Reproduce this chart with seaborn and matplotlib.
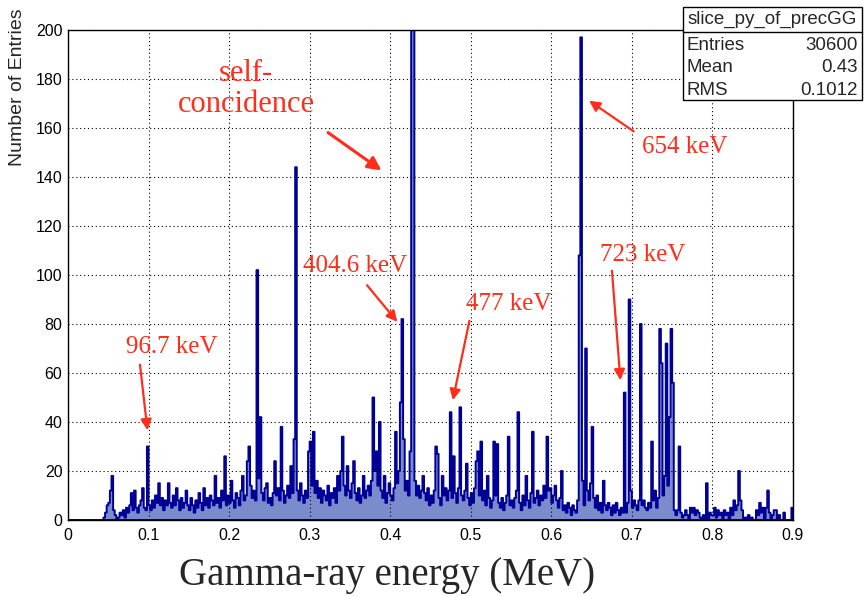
import numpy as np
import pandas as pd
import matplotlib
matplotlib.use("Agg")
import matplotlib.pyplot as plt
import seaborn as sns
from matplotlib.patches import Rectangle
from matplotlib.lines import Line2D
from matplotlib.ticker import MultipleLocator, FuncFormatter

# entries per 2 keV bin, one list per 0.1 MeV
counts_00_01 = [0, 0, 0, 0, 0, 0, 0, 0, 0, 0, 0, 0, 0, 0, 0, 0, 0, 0, 0, 0,
                0, 0, 1, 3, 6,
                7, 12, 18, 4, 2, 0, 1, 3, 2, 4, 1, 5, 3, 6, 11, 4, 12, 5, 3, 6,
                8, 13, 5, 4, 30]
counts_01_02 = [6, 4, 8, 5, 10, 7, 15, 6, 9, 4, 8, 6, 15, 7, 5, 10, 6, 13, 8, 4,
                9, 5, 7, 12, 6,
                4, 9, 6, 3, 8, 5, 11, 7, 4, 13, 6, 9, 5, 10, 8, 6, 18, 7, 9, 5,
                12, 8, 26, 6, 10]
counts_02_03 = [7, 16, 8, 5, 11, 9, 6, 12, 18, 8, 10, 24, 30, 14, 9, 12, 8, 102, 17, 42,
                11, 8, 13, 15, 7,
                9, 6, 11, 24, 10, 13, 8, 38, 12, 7, 10, 14, 9, 22, 11, 33, 144, 12, 8, 15,
                10, 7, 12, 9, 28]
counts_03_04 = [32, 14, 36, 11, 16, 9, 13, 7, 12, 10, 8, 14, 6, 11, 9, 13, 7, 18, 12, 20,
                34, 14, 10, 22, 12,
                9, 15, 24, 11, 8, 13, 7, 10, 18, 9, 12, 14, 10, 16, 50, 20, 28, 14, 40, 12,
                9, 18, 7, 11, 15]
counts_04_05 = [10, 8, 13, 36, 15, 20, 48, 82, 33, 12, 16, 10, 28, 250, 250, 16, 10, 14, 9, 12,
                18, 11, 8, 13, 6,
                10, 7, 12, 30, 27, 9, 6, 18, 10, 13, 8, 12, 44, 9, 26, 11, 7, 13, 46, 10,
                8, 12, 23, 9, 6]
counts_05_06 = [11, 7, 13, 24, 28, 10, 32, 8, 12, 6, 18, 9, 5, 8, 32, 10, 31, 7, 5, 9,
                4, 7, 10, 34, 6,
                8, 5, 9, 12, 44, 7, 4, 10, 6, 18, 8, 5, 11, 36, 7, 9, 12, 6, 10, 8,
                14, 9, 34, 12, 13]
counts_06_07 = [7, 10, 14, 8, 5, 9, 20, 4, 6, 3, 7, 5, 2, 6, 4, 3, 8, 108, 197, 16,
                6, 70, 12, 8, 15,
                38, 9, 5, 10, 4, 7, 3, 16, 6, 4, 7, 5, 2, 6, 3, 7, 4, 2, 5, 3,
                52, 3, 7, 90, 12]
counts_07_08 = [5, 8, 6, 4, 8, 80, 6, 8, 5, 4, 7, 5, 32, 8, 12, 5, 9, 78, 64, 10,
                18, 72, 14, 42, 78,
                56, 4, 2, 4, 30, 3, 1, 2, 4, 2, 0, 5, 3, 5, 2, 4, 3, 1, 0, 2,
                0, 15, 0, 3, 2]
counts_08_09 = [2, 5, 1, 4, 2, 3, 0, 4, 2, 3, 0, 5, 2, 8, 4, 6, 20, 8, 4, 0,
                1, 0, 2, 0, 1,
                0, 0, 4, 2, 7, 3, 5, 0, 5, 12, 3, 0, 2, 4, 4, 0, 2, 0, 0, 3,
                0, 0, 0, 0, 5]
bin_width = 0.002

stats_title = "slice_py_of_precGG"
stats_names = ["Entries", "Mean", "RMS"]
stats_values = ["30600", "0.43", "0.1012"]

peak_labels = ["96.7 keV", "404.6 keV", "477 keV", "723 keV", "654 keV"]

counts = (counts_00_01 + counts_01_02 + counts_02_03 + counts_03_04 +
          counts_04_05 + counts_05_06 + counts_06_07 + counts_07_08 + counts_08_09)
df = pd.DataFrame({"energy": (np.arange(len(counts)) + 0.5) * bin_width,
                   "entries": counts})

sns.set_style("white")
plt.rcParams["font.family"] = ["Liberation Sans", "DejaVu Sans"]
serif = ["Liberation Serif", "DejaVu Serif"]
red = "#ff2d1a"

fig = plt.figure(figsize=(8.64, 5.96), dpi=100)
ax = fig.add_axes([68 / 864, 1 - 520 / 596, 725 / 864, 490 / 596])

sns.histplot(data=df, x="energy", weights="entries", binwidth=bin_width,
             binrange=(0, 0.9), element="step", fill=True, facecolor="#7b8ccd",
             edgecolor="#000096", linewidth=1.4, ax=ax)

ax.set_xlim(0, 0.9)
ax.set_ylim(0, 200)
ax.set_xlabel("")
ax.set_ylabel("")
ax.xaxis.set_major_locator(MultipleLocator(0.1))
ax.xaxis.set_minor_locator(MultipleLocator(0.02))
ax.yaxis.set_major_locator(MultipleLocator(20))
ax.yaxis.set_minor_locator(MultipleLocator(5))
ax.xaxis.set_major_formatter(FuncFormatter(lambda v, p: f"{v:g}"))
ax.tick_params(which="both", direction="in", top=False, right=False,
               colors="black", labelsize=11.5)
ax.tick_params(axis="x", which="major", length=10, width=1, pad=6)
ax.tick_params(axis="x", which="minor", length=5, width=1)
ax.tick_params(axis="y", which="major", length=16, width=1, pad=4)
ax.tick_params(axis="y", which="minor", length=8, width=1)
ax.set_axisbelow(False)
ax.grid(True, which="major", color="black", linestyle=(0, (1, 2.5)), linewidth=0.8)
for s in ax.spines.values():
    s.set_color("black")
    s.set_linewidth(1)

# peak annotations (text centre, arrow start, arrow tip in data units)
label_pos = [(0.129, 70.6), (0.356, 103.7), (0.547, 88.2), (0.714, 108.2), (0.766, 152.2)]
arrow_from = [(0.089, 64.5), (0.369, 96.7), (0.499, 82.4), (0.675, 102.9), (0.705, 158)]
arrow_to = [(0.099, 35.5), (0.411, 80), (0.477, 47.8), (0.686, 55.9), (0.644, 171.8)]
for lab, (tx, ty), a0, a1 in zip(peak_labels, label_pos, arrow_from, arrow_to):
    ax.text(tx, ty, lab, color=red, family=serif, fontsize=18, ha="center", va="center")
    ax.annotate("", xy=a1, xytext=a0,
                arrowprops=dict(arrowstyle="-|>", color=red, lw=1.6, mutation_scale=16))
ax.text(0.221, 175.9, "self-\nconcidence", color=red, family=serif, fontsize=22,
        ha="center", va="center", linespacing=1.05)
ax.annotate("", xy=(0.392, 142), xytext=(0.320, 158.8),
            arrowprops=dict(arrowstyle="-|>", color=red, lw=2.2, mutation_scale=20))

# ROOT-like stats box
fig.add_artist(Rectangle((683 / 864, 1 - 100 / 596), 179 / 864, 93 / 596,
                         transform=fig.transFigure, facecolor="white",
                         edgecolor="black", lw=1, zorder=5))
fig.add_artist(Line2D([683 / 864, 862 / 864], [1 - 32 / 596] * 2,
                      transform=fig.transFigure, color="black", lw=1, zorder=6))
fig.text(772 / 864, 1 - 19 / 596, stats_title, ha="center", va="center",
         fontsize=13.5, zorder=7)
for i, (nm, val) in enumerate(zip(stats_names, stats_values)):
    yy = 1 - (45 + 22.5 * i) / 596
    fig.text(687 / 864, yy, nm, ha="left", va="center", fontsize=13.5, zorder=7)
    fig.text(858 / 864, yy, val, ha="right", va="center", fontsize=13.5, zorder=7)

fig.text(18 / 864, 1 - 8 / 596, "Number of Entries", rotation=90,
         ha="center", va="top", fontsize=14)
fig.text(387 / 864, 1 - 576 / 596, "Gamma-ray energy (MeV)", family=serif,
         fontsize=28, ha="center", va="center")

fig.savefig("out.png", dpi=100)
